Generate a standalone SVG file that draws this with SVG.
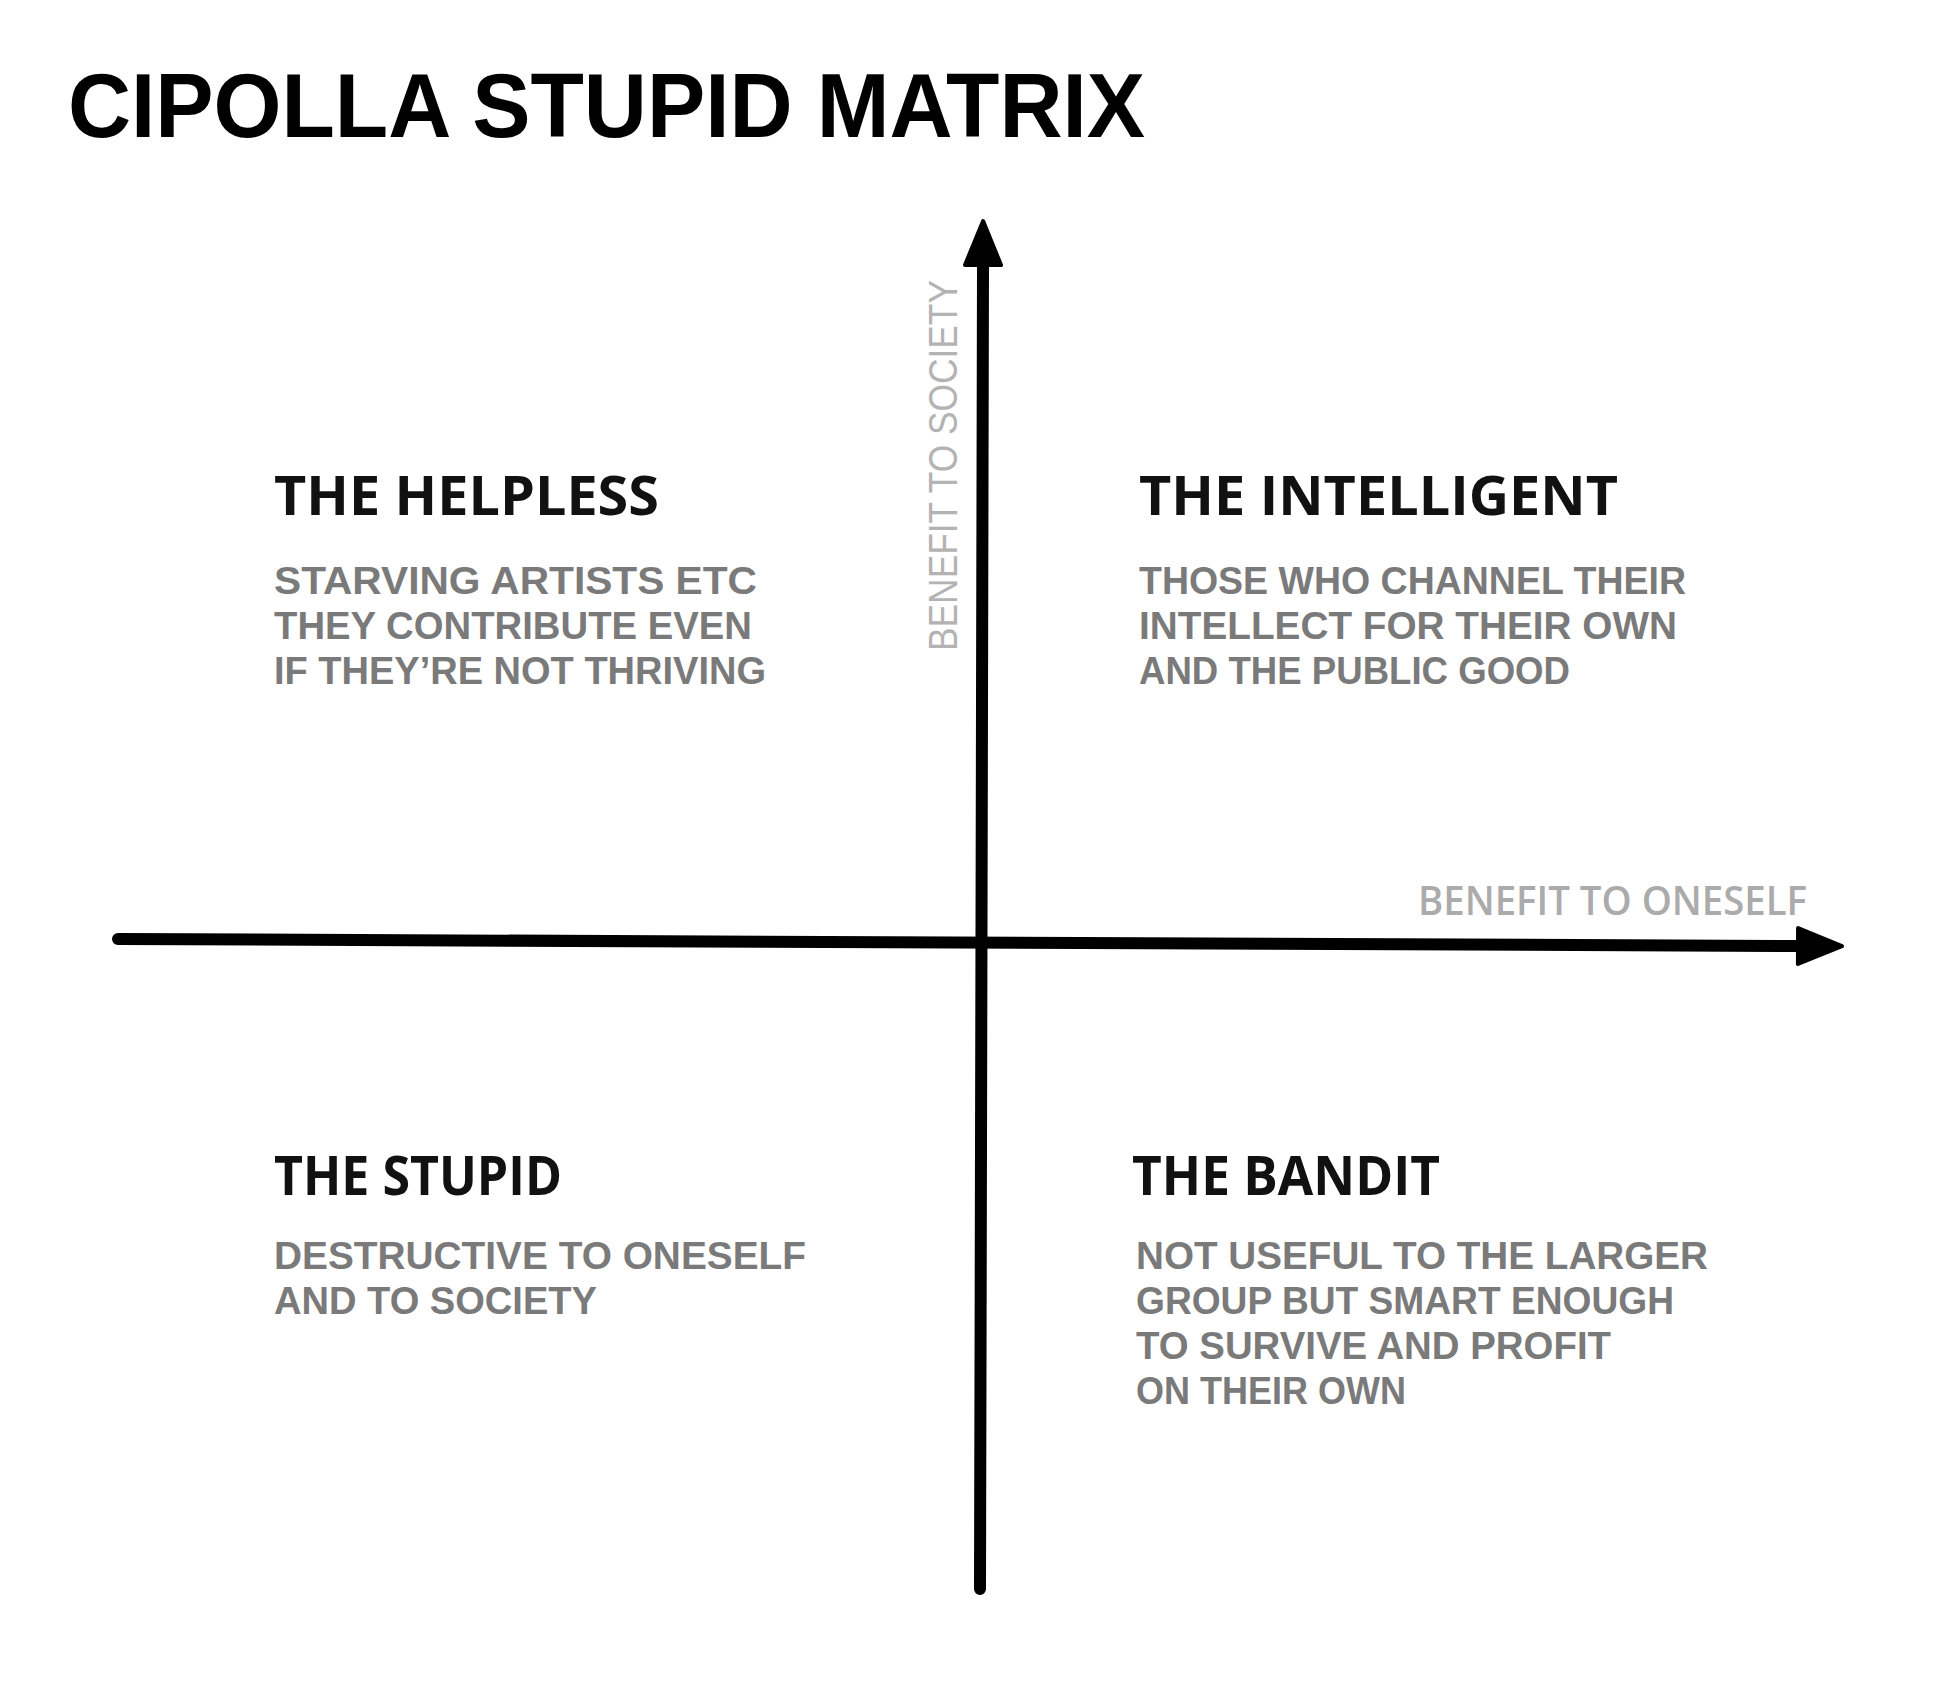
<svg xmlns="http://www.w3.org/2000/svg" width="1951" height="1684" viewBox="0 0 1951 1684">
  <style>
    .title { font-family: "Liberation Sans", Arial, sans-serif; font-weight: 700; font-size: 90px; fill: #000; }
    .head { font-family: "Open Sans", "Liberation Sans", sans-serif; font-weight: 700; font-size: 54px; fill: #111; }
    .desc { font-family: "Liberation Sans", Arial, sans-serif; font-weight: 700; font-size: 39px; fill: #7a7a7a; }
    .axislbl { font-family: "Open Sans", "Liberation Sans", sans-serif; font-weight: 600; font-size: 40px; fill: #ababab; }
    .vlbl { font-family: "Liberation Sans", Arial, sans-serif; font-weight: 400; font-size: 40px; fill: #b3b3b3; }
    .axis { fill: none; stroke: #000; stroke-width: 12; stroke-linecap: round; }
  </style>
  <defs>
    <marker id="arrow" markerUnits="userSpaceOnUse" viewBox="0 0 50 42" markerWidth="50" markerHeight="42" refX="3" refY="21" orient="auto">
      <path d="M3,3 L47,21 L3,39 Z" fill="#000" stroke="#000" stroke-width="4" stroke-linejoin="round"/>
    </marker>
  </defs>
  <rect width="1951" height="1684" fill="#fff"/>

  <g id="title">
    <text class="title" x="68" y="137" textLength="1077" lengthAdjust="spacingAndGlyphs">CIPOLLA STUPID MATRIX</text>
  </g>

  <g id="connectors">
    <path id="x-axis" class="axis" d="M118,939 L1798,946" marker-end="url(#arrow)"/>
    <path id="y-axis" class="axis" d="M980,1589 L983,265" marker-end="url(#arrow)"/>
  </g>

  <g id="label-society">
    <text class="vlbl" transform="translate(957,651) rotate(-90)" x="0" y="0" textLength="371" lengthAdjust="spacingAndGlyphs">BENEFIT TO SOCIETY</text>
  </g>
  <g id="label-oneself">
    <text class="axislbl" x="1418" y="915" textLength="389" lengthAdjust="spacingAndGlyphs">BENEFIT TO ONESELF</text>
  </g>

  <g id="helpless">
    <text class="head" x="274" y="515" textLength="385" lengthAdjust="spacingAndGlyphs">THE HELPLESS</text>
    <text class="desc" x="274" y="594" textLength="483" lengthAdjust="spacingAndGlyphs">STARVING ARTISTS ETC</text>
    <text class="desc" x="274" y="639" textLength="478" lengthAdjust="spacingAndGlyphs">THEY CONTRIBUTE EVEN</text>
    <text class="desc" x="274" y="684" textLength="492" lengthAdjust="spacingAndGlyphs">IF THEY’RE NOT THRIVING</text>
  </g>

  <g id="intelligent">
    <text class="head" x="1139" y="515" textLength="479" lengthAdjust="spacingAndGlyphs">THE INTELLIGENT</text>
    <text class="desc" x="1139" y="594" textLength="547" lengthAdjust="spacingAndGlyphs">THOSE WHO CHANNEL THEIR</text>
    <text class="desc" x="1139" y="639" textLength="538" lengthAdjust="spacingAndGlyphs">INTELLECT FOR THEIR OWN</text>
    <text class="desc" x="1139" y="684" textLength="431" lengthAdjust="spacingAndGlyphs">AND THE PUBLIC GOOD</text>
  </g>

  <g id="stupid">
    <text class="head" x="274" y="1195" textLength="288" lengthAdjust="spacingAndGlyphs">THE STUPID</text>
    <text class="desc" x="274" y="1269" textLength="532" lengthAdjust="spacingAndGlyphs">DESTRUCTIVE TO ONESELF</text>
    <text class="desc" x="274" y="1314" textLength="323" lengthAdjust="spacingAndGlyphs">AND TO SOCIETY</text>
  </g>

  <g id="bandit">
    <text class="head" x="1132" y="1195" textLength="308" lengthAdjust="spacingAndGlyphs">THE BANDIT</text>
    <text class="desc" x="1136" y="1269" textLength="572" lengthAdjust="spacingAndGlyphs">NOT USEFUL TO THE LARGER</text>
    <text class="desc" x="1136" y="1314" textLength="538" lengthAdjust="spacingAndGlyphs">GROUP BUT SMART ENOUGH</text>
    <text class="desc" x="1136" y="1359" textLength="475" lengthAdjust="spacingAndGlyphs">TO SURVIVE AND PROFIT</text>
    <text class="desc" x="1136" y="1404" textLength="270" lengthAdjust="spacingAndGlyphs">ON THEIR OWN</text>
  </g>
</svg>
